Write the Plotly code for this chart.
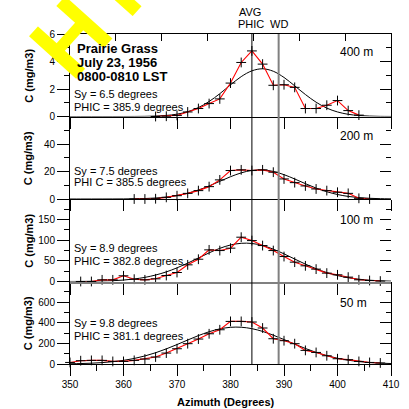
import plotly.graph_objects as go

# ---------------- data ----------------
az_400 = [366, 368, 370, 372, 374, 376, 378, 380, 382, 384, 386, 388, 390, 392, 394, 396, 398, 400, 402, 404]
c_400 = [0.0, 0.02, 0.08, 0.33, 0.58, 0.94, 1.28, 2.43, 3.93, 4.77, 3.81, 2.27, 2.31, 2.12, 0.58, 0.58, 0.82, 1.16, 0.43, 0.1]

az_200 = [362, 364, 366, 368, 370, 372, 374, 376, 378, 380, 382, 384, 386, 388, 390, 392, 394, 396, 398, 400, 402, 404, 406]
c_200 = [0.0, 0.0, 0.2, 1.2, 2.4, 4.1, 6.1, 9.0, 13.9, 20.7, 21.2, 20.7, 21.2, 19.5, 14.6, 11.9, 9.5, 7.3, 6.1, 4.9, 4.1, 0.5, 0.0]

az_100 = [352, 354, 356, 358, 360, 362, 364, 366, 368, 370, 372, 374, 376, 378, 380, 382, 384, 386, 388, 390, 392, 394, 396, 398, 400, 402, 404, 406, 408]
c_100 = [0, 0, 4, 4, 13.8, 5.6, 4, 6.5, 14.5, 21.8, 40.4, 54, 76.7, 75, 80.8, 107.4, 99.2, 87.1, 75, 60.5, 46.9, 38, 30, 20.3, 16.2, 10.6, 4.1, 2.4, 1.0]

az_50 = [350, 352, 354, 356, 358, 360, 362, 364, 366, 368, 370, 372, 374, 376, 378, 380, 382, 384, 386, 388, 390, 392, 394, 396, 398, 400, 402, 404, 406, 408]
c_50 = [15, 32, 35, 35, 25, 25, 35, 48, 68, 106, 148, 197, 242, 293, 332, 413, 413, 407, 349, 245, 226, 197, 132, 112, 80, 51, 42, 25, 15, 10]

fit_az = [350, 352, 354, 356, 358, 360, 362, 364, 366, 368, 370, 372, 374, 376, 378, 380,
          382, 384, 386, 388, 390, 392, 394, 396, 398, 400, 402, 404, 406, 408, 410]
fit_400 = [0, 0, 0, 0, 0, 0.001, 0.004, 0.012, 0.032, 0.078, 0.17, 0.35, 0.65, 1.09, 1.66, 2.30,
           2.90, 3.32, 3.47, 3.29, 2.84, 2.23, 1.60, 1.04, 0.61, 0.33, 0.16, 0.07, 0.03, 0.01, 0.004]
fit_200 = [0, 0.001, 0.003, 0.009, 0.026, 0.065, 0.16, 0.35, 0.72, 1.39, 2.50, 4.19, 6.54, 9.50, 12.86, 16.2,
           19.0, 20.8, 21.15, 20.05, 17.7, 14.57, 11.15, 7.94, 5.29, 3.27, 1.88, 1.01, 0.50, 0.24, 0.10]
fit_100 = [0.1, 0.23, 0.49, 1.0, 1.9, 3.5, 6.1, 10.0, 15.7, 23.3, 33.1, 44.5, 57.0, 69.4, 80.4, 88.5,
           92.6, 92.2, 87.2, 78.4, 67.0, 54.5, 42.1, 31.0, 21.6, 14.4, 9.1, 5.5, 3.1, 1.7, 0.9]
fit_50 = [2.3, 4.4, 7.8, 13.5, 22.3, 35.3, 53.6, 78.1, 109.2, 146.5, 188.6, 232.6, 275.4, 312.6, 340.5, 355.8,
          356.5, 342.7, 315.9, 279.4, 237.0, 192.9, 150.6, 112.7, 81.0, 55.7, 36.8, 23.3, 14.2, 8.3, 4.6]

distances = ["400 m", "200 m", "100 m", "50 m"]
sy_labels = ["Sy = 6.5 degrees", "Sy = 7.5 degrees", "Sy = 8.9 degrees", "Sy = 9.8 degrees"]
phic_labels = ["PHIC = 385.9 degrees", "PHI C = 385.5 degrees", "PHIC = 382.8 degrees", "PHIC = 381.1 degrees"]
y_max = [6, 60, 200, 800]
y_major = [[0, 2, 4, 6], [0, 20, 40], [0, 50, 100, 150], [0, 200, 400, 600]]
y_minor = [[1, 3, 5], [10, 30, 50], [25, 75, 125, 175], [100, 300, 500, 700]]
y_right_major = [[0, 2, 4, 6], [0, 20, 40, 60], [0, 50, 100, 150, 200], [0, 200, 400, 600, 800]]
y_right_minor = [[1, 3, 5], [10, 30, 50], [25, 75, 125, 175], [100, 300, 500, 700]]
x_ticks = [350, 360, 370, 380, 390, 400, 410]
top_ticks = [358.5, 367.1, 375.7, 384.3, 392.9, 401.5]
avg_phic = 384.0
wd = 389.0

obs = [(az_400, c_400), (az_200, c_200), (az_100, c_100), (az_50, c_50)]
fits = [fit_400, fit_200, fit_100, fit_50]

FONT = "Liberation Sans, Arial, sans-serif"
W, H = 409, 409
L, R, T, B = 70, 9, 34, 45
PW, PH = W - L - R, H - T - B


def px(xp):
    return (xp - L) / PW


def py(yp):
    return (H - B - yp) / PH


fig = go.Figure()
layout = dict(
    width=W, height=H, margin=dict(l=L, r=R, t=T, b=B),
    paper_bgcolor="white", plot_bgcolor="white", showlegend=False,
    font=dict(family=FONT, size=10, color="black"),
)

for i in range(4):
    n = i + 1
    top = 1 - i * 0.25
    bot = 1 - (i + 1) * 0.25
    xs, ys = obs[i]
    fig.add_trace(go.Scatter(x=fit_az, y=fits[i], mode="lines", line=dict(color="black", width=1, shape="spline"),
                             xaxis=f"x{n}", yaxis=f"y{n}", hoverinfo="skip"))
    fig.add_trace(go.Scatter(x=xs, y=ys, mode="lines+markers", line=dict(color="#ff0000", width=1.1),
                             marker=dict(symbol="cross-thin", size=7, line=dict(color="black", width=1)),
                             xaxis=f"x{n}", yaxis=f"y{n}", cliponaxis=False))
    # dummy trace for the right-side tick axis
    fig.add_trace(go.Scatter(x=[None], y=[None], xaxis=f"x{n}", yaxis=f"y{n + 4}", hoverinfo="skip"))

    xa = dict(domain=[0, 1], range=[350, 410], anchor=f"y{n}", showline=True, linecolor="black", linewidth=1,
              ticks="outside", ticklen=11, tickcolor="black", tickvals=x_ticks, showticklabels=(n == 4),
              showgrid=False, zeroline=False, tickfont=dict(size=10))
    if n == 3:
        xa.update(linecolor="#808080", linewidth=2)
    if n == 4:
        xa.update(minor=dict(tickvals=[355, 365, 375, 385, 395, 405], ticklen=6, ticks="outside", tickcolor="black"))
    layout[f"xaxis{n}"] = xa
    layout[f"yaxis{n}"] = dict(domain=[bot, top], range=[0, y_max[i]], anchor=f"x{n}", showline=True,
                               linecolor="black", linewidth=1, ticks="outside", ticklen=12, tickcolor="black",
                               tickvals=y_major[i], showgrid=False, zeroline=False, tickfont=dict(size=10),
                               minor=dict(tickvals=y_minor[i], ticklen=5, ticks="outside", tickcolor="black"))
    layout[f"yaxis{n + 4}"] = dict(overlaying=f"y{n}", side="right", anchor=f"x{n}", range=[0, y_max[i]],
                                   showline=(n in (1, 4)), linecolor="black", linewidth=1,
                                   ticks="inside", ticklen=11, tickcolor="black", tickvals=y_right_major[i],
                                   showticklabels=False, showgrid=False, zeroline=False,
                                   minor=dict(tickvals=y_right_minor[i], ticklen=5, ticks="inside", tickcolor="black"))

# top axis for panel 1
fig.add_trace(go.Scatter(x=[None], y=[None], xaxis="x5", yaxis="y1", hoverinfo="skip"))
layout["xaxis5"] = dict(overlaying="x1", side="top", anchor="y1", range=[350, 410], showline=True,
                        linecolor="black", linewidth=1, ticks="inside", ticklen=7, tickcolor="black",
                        tickvals=top_ticks, showticklabels=False, showgrid=False, zeroline=False)

fig.update_layout(**layout)

shapes = [
    dict(type="line", xref="x4", yref="paper", x0=avg_phic, x1=avg_phic, y0=0, y1=1,
         line=dict(color="black", width=1)),
    dict(type="line", xref="x4", yref="paper", x0=wd, x1=wd, y0=0, y1=1,
         line=dict(color="#808080", width=2)),
]

ann = []


def add_text(text, xp, yp, size, bold=False, xanchor="left", angle=0, color="black"):
    ann.append(dict(text=f"<b>{text}</b>" if bold else text, x=px(xp), y=py(yp), xref="paper", yref="paper",
                    xanchor=xanchor, yanchor="middle", showarrow=False, textangle=angle,
                    font=dict(family=FONT, size=size, color=color)))


# yellow watermark (drawn first, underneath the other texts)
ann.append(dict(text="<b>HY</b>", x=px(92), y=py(14), xref="paper", yref="paper", xanchor="center",
                yanchor="middle", showarrow=False, textangle=-48,
                font=dict(family=FONT, size=92, color="#ffff00")))

add_text("Prairie Grass", 75, 48, 13, bold=True)
add_text("July 23, 1956", 75, 62.5, 13, bold=True)
add_text("0800-0810 LST", 75, 77, 13, bold=True)

sy_y = [94, 170.7, 248.3, 323.3]
ph_y = [107, 182.3, 260.7, 336]
lab_y = [52, 136, 220, 303]
title_y = [75.5, 158, 240.5, 323]
for i in range(4):
    add_text(sy_labels[i], 72.5, sy_y[i], 11)
    add_text(phic_labels[i], 72.5, ph_y[i], 11)
    add_text(distances[i], 345, lab_y[i], 12)
    add_text("C (mg/m3)", 27, title_y[i], 11, bold=True, xanchor="center", angle=-90)

add_text("AVG", 255, 12, 11, xanchor="center")
add_text("PHIC", 256, 23.5, 11, xanchor="center")
add_text("WD", 285, 23.5, 11, xanchor="center")
add_text("Azimuth (Degrees)", 230, 402, 11, bold=True, xanchor="center")

fig.update_layout(shapes=shapes, annotations=ann)
fig.write_html("out.html")
